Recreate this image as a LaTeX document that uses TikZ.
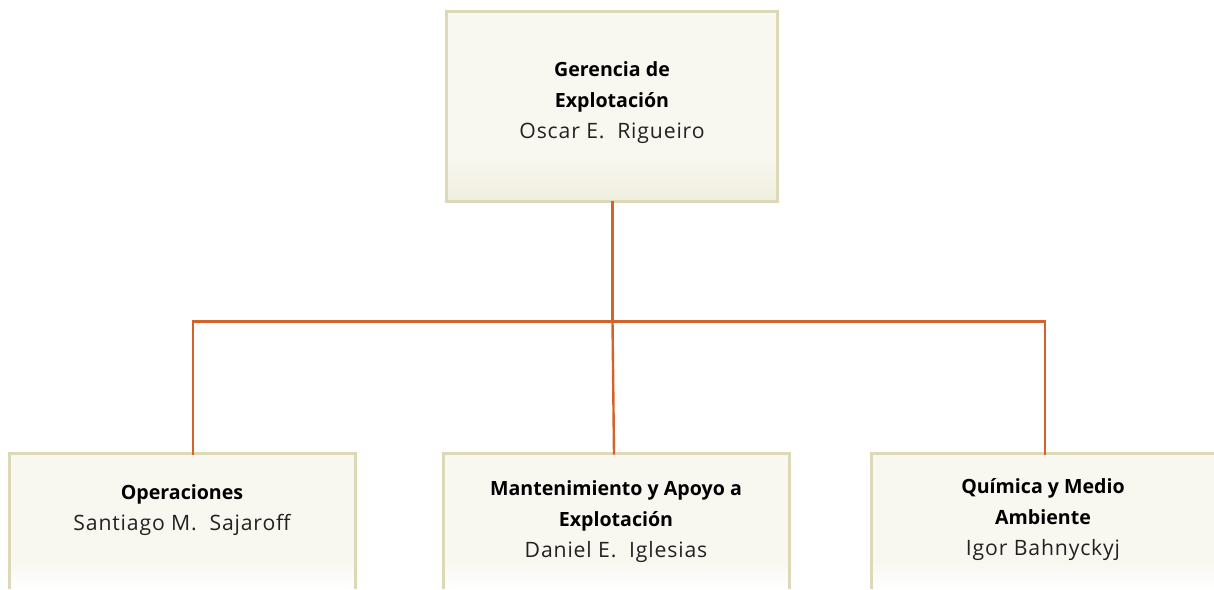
\documentclass[tikz,border=0pt]{standalone}
\usepackage{fontspec}
\setmainfont{Open Sans}
\newfontfamily\namefont[LetterSpace=4]{Open Sans}
\definecolor{boxborder}{HTML}{DDD8B6}
\definecolor{boxfill}{HTML}{F8F7F0}
\definecolor{boxbottom}{HTML}{F0EEDE}
\definecolor{linkcol}{HTML}{D4622B}
\definecolor{txtcol}{HTML}{222222}
\tikzset{
  orgbox/.style={fill=boxfill, rectangle, inner sep=0pt, anchor=north west},
  boxline/.style={draw=boxborder, line width=3pt},
  orgtext/.style={align=center, text=txtcol, inner sep=0pt, font=\namefont\fontsize{21.2}{31}\selectfont},
  link/.style={draw=linkcol, line width=2.4pt},
}
\newcommand{\hd}[1]{{\rmfamily\fontsize{19.6}{31}\selectfont\bfseries\color{black} #1}}
\begin{document}
\begin{tikzpicture}[x=1pt,y=-1pt]
\useasboundingbox (0,0) rectangle (1214,589);
% boxes
\node[orgbox, minimum width=331pt, minimum height=190pt] (top) at (446,11) {};
\node[orgbox, minimum width=346pt, minimum height=150pt] (ops) at (9,453) {};
\node[orgbox, minimum width=346pt, minimum height=150pt] (mant) at (443,453) {};
\node[orgbox, minimum width=346pt, minimum height=150pt] (quim) at (871,453) {};
\shade[top color=boxfill, middle color=white, bottom color=boxbottom] (446,158) rectangle (777,201);
\shade[top color=boxfill, bottom color=white] (9,562) rectangle (355,589);
\shade[top color=boxfill, bottom color=white] (443,562) rectangle (789,589);
\shade[top color=boxfill, bottom color=white] (871,562) rectangle (1214,589);
\draw[boxline] (top.north west) rectangle (top.south east);
\draw[boxline] (ops.north west |- 0,589) -- (ops.north west) -- (ops.north east) -- (ops.north east |- 0,589);
\draw[boxline] (mant.north west |- 0,589) -- (mant.north west) -- (mant.north east) -- (mant.north east |- 0,589);
\draw[boxline] (quim.north west |- 0,589) -- (quim.north west) -- (quim.north east);
% texts
\node[orgtext] (topt) at (612,103) {\hd{Gerencia de}\\\hd{Explotación}\\Oscar E.\ \ Rigueiro};
\node[orgtext] (opst) at (182,510) {\hd{Operaciones}\\Santiago M.\ \ Sajaroff};
\node[orgtext] (mantt) at (616,522) {\hd{Mantenimiento y Apoyo a}\\\hd{Explotación}\\Daniel E.\ \ Iglesias};
\node[orgtext] (quimt) at (1043,520) {\hd{Química y Medio}\\\hd{Ambiente}\\Igor Bahnyckyj};
% connectors
\coordinate (j) at (612.5,321.5);
\coordinate (mtop) at (614,453);
\draw[link] (top.south -| 612.5,0) -- (j);
\draw[link] (j) -- ([yshift=-1.5pt]mtop);
\draw[link] ([yshift=-1.5pt]ops.north -| 193,0) -- (193,321.5) -- (1045,321.5) -- ([yshift=-1.5pt]quim.north -| 1045,0);
\end{tikzpicture}
\end{document}
